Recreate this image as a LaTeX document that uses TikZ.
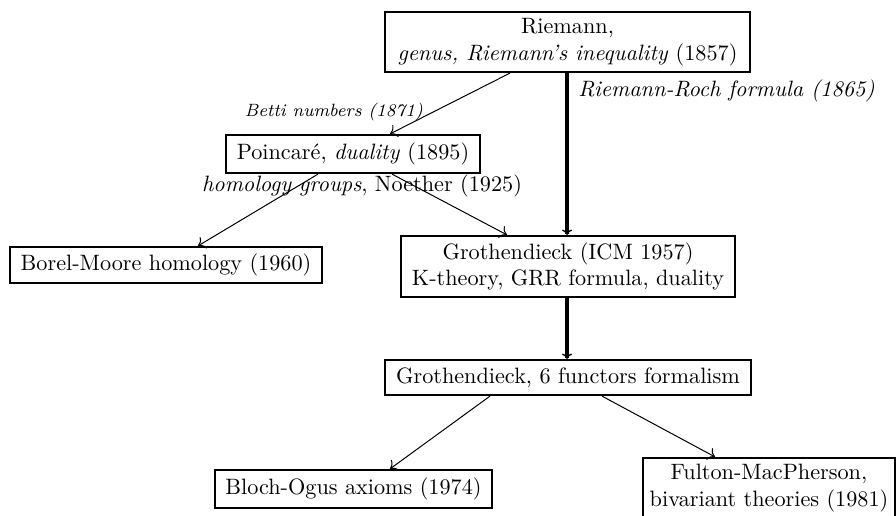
\documentclass[tikz,border=0pt]{standalone}
\usetikzlibrary{calc,arrows.meta}
\begin{document}
\begin{tikzpicture}[x=0.45pt,y=-0.45pt,
  box/.style={draw,line width=1pt,align=center,inner sep=0pt},
  thinarrow/.style={-{Computer Modern Rightarrow[length=3pt,width=6pt,line width=0.45pt]},line width=0.45pt},
  heavyarrow/.style={-{Computer Modern Rightarrow[length=2.4pt,width=4.5pt,line width=0.6pt]},line width=1.5pt},
  lab/.style={font=\itshape,inner sep=0pt}]
\useasboundingbox (0,0) rectangle (896,516);
\node[box,minimum width=365*0.45pt,minimum height=60*0.45pt] (R) at (567.5,42)
  {Riemann,\\ \textit{genus, Riemann's inequality} (1857)};
\node[box,minimum width=254*0.45pt,minimum height=38*0.45pt] (P) at (353,154)
  {Poincar\'e, \textit{duality} (1895)};
\node[box,minimum width=312*0.45pt,minimum height=36*0.45pt] (B) at (166,265)
  {Borel-Moore homology (1960)};
\node[box,minimum width=334*0.45pt,minimum height=61*0.45pt] (G) at (568,266.5)
  {Grothendieck (ICM 1957)\\ K-theory, GRR formula, duality};
\node[box,minimum width=366*0.45pt,minimum height=35*0.45pt] (F) at (568,377.5)
  {Grothendieck, 6 functors formalism};
\node[box,minimum width=277*0.45pt,minimum height=38*0.45pt] (BO) at (353.5,489)
  {Bloch-Ogus axioms (1974)};
\node[box,minimum width=252*0.45pt,minimum height=60*0.45pt] (FM) at (769,488)
  {Fulton-MacPherson,\\ bivariant theories (1981)};

\draw[thinarrow] ($(R.south)+(-57.5,0)$) -- ($(P.north)+(37,0)$);
\draw[heavyarrow] ($(R.south)+(-0.5,0)$) -- ($(G.north)+(-1,0)$);
\draw[thinarrow] ($(P.south)+(-35,0)$) -- ($(B.north)+(32,0)$);
\draw[thinarrow] ($(P.south)+(39,0)$) -- ($(G.north)+(-61,0)$);
\draw[heavyarrow] ($(G.south)+(-1,0)$) -- ($(F.north)+(-1,0)$);
\draw[thinarrow] ($(F.south)+(-78,0)$) -- ($(BO.north)+(36.5,0)$);
\draw[thinarrow] ($(F.south)+(34,0)$) -- ($(FM.north)+(-54,0)$);

\node[lab,font=\footnotesize\itshape] (bt) at (334,112) {Betti numbers (1871)};
\node[lab,anchor=west] (rr) at (578,91) {Riemann-Roch formula (1865)};
\node[inner sep=0pt] (hg) at (362,186) {\textit{homology groups}, Noether (1925)};
\end{tikzpicture}
\end{document}
